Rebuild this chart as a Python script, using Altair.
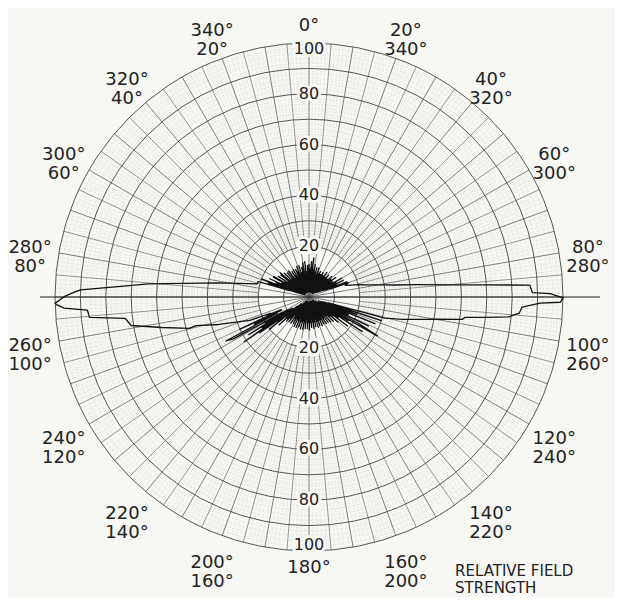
import math
import altair as alt
import pandas as pd

# ---------------- data ----------------
# polar pattern, in segments: angle (deg, clockwise from top) and relative field strength
burst_upper_right_a = [0, 1, 2, 3, 4, 5, 6, 7, 8, 9, 10, 11, 12, 13, 14, 15, 16, 17, 18, 19,
                       20, 22, 23, 24, 25, 27, 28, 30, 31, 33, 34, 36, 37, 39, 40, 42, 43,
                       45, 46, 48, 49, 51, 52, 54, 55, 57, 58, 60, 61, 62, 63, 64, 65, 66,
                       67, 68, 69, 70, 72]
burst_upper_right_r = [13, 3, 11, 2, 14, 3, 10, 15.5, 3, 11, 2, 13, 4, 10, 2, 12, 3, 9, 2, 12,
                       3, 10, 2, 11, 3, 10, 2, 11, 3, 10, 2, 12, 3, 10, 2, 11.5, 3,
                       10, 2, 12, 3, 11, 3, 13, 3, 11, 4, 14.8, 4, 12, 5, 15, 6, 12,
                       7, 16, 9, 16.5, 15]

lobe_right_a = [74, 76, 78, 80, 82, 83.5, 85, 86, 86.9, 88.9, 89.2, 90.2, 91.2, 91.5, 92.7,
                94.4, 95.7, 96.6, 97.4, 98.3, 100.1, 101, 103.4, 105.6]
lobe_right_r = [17, 20, 23, 27.5, 34, 43, 55, 68, 87, 88, 95, 100, 99, 91, 84,
                83, 79, 70, 62, 61, 50, 46, 38, 31]

streaks_lower_right_a = [107, 108, 109, 110, 111, 112, 113, 114, 115, 116, 117, 118, 119.6,
                         120.5, 121, 122, 123, 124, 125, 126, 127, 128, 129, 130, 131, 132, 133]
streaks_lower_right_r = [8, 30, 6, 20, 5, 28, 5, 17, 4, 26, 5, 22, 31,
                         5, 18, 4, 25, 3, 14, 3, 19, 3, 12, 2, 15, 2, 11]

burst_lower_a = [134, 135, 136, 137, 138, 139, 140, 141, 142, 143, 144, 145, 146, 147, 148,
                 149, 150, 151, 152, 153, 154, 155, 156, 157, 158, 159, 160, 161, 162, 163,
                 164, 165, 166, 167, 168, 169, 170, 171, 172, 173, 174, 175, 176, 177, 178,
                 179, 180, 181, 182, 183, 184, 185, 186, 187, 188, 189, 190, 191, 192, 193,
                 194, 195, 196, 197, 198, 199, 200, 201, 202, 203, 204, 205, 206, 207, 208,
                 209, 210, 211, 212, 213, 214, 215, 216, 217, 218, 219, 220, 221, 222, 223,
                 224, 225, 226]
burst_lower_r = [3, 13.5, 2, 10, 3, 13, 2, 9, 3, 12.5, 2, 10, 3, 12.5, 2,
                 9, 3, 12, 2, 10, 3, 12.5, 2, 9.5, 3, 12, 2, 10, 3, 12.5,
                 2, 9, 3, 12, 2, 10, 3, 12.5, 2, 9, 3, 12, 2, 10, 3,
                 13, 2, 10, 3, 12.5, 2, 9, 3, 12.5, 2, 10, 3, 13, 2, 9.5,
                 3, 13, 2, 10, 3, 12.5, 2, 9, 3, 13, 2, 10, 3, 13, 2,
                 9.5, 3, 12, 2, 10, 3, 12.5, 2, 9, 3, 12.5, 3, 11, 4, 13,
                 4, 12, 5]

streaks_lower_left_a = [227, 228, 229, 230, 231, 232, 233, 234, 234.7, 235.4, 236.1, 236.8,
                        237.4, 238, 238.8, 239.5, 240.2, 241, 242.1, 242.8, 243.5, 244.2,
                        245, 245.8, 246.5, 247.2]
streaks_lower_left_r = [16, 4, 12, 5, 20, 6, 15, 24, 8, 31, 8, 22,
                        9, 28, 10, 20, 12, 34, 37, 14, 24, 12,
                        30, 12, 18, 16.5]

lobe_left_a = [248.4, 250.5, 253, 255.8, 255.3, 258.3, 260.9, 263.4, 264.7, 266.6, 267.4,
               268.2, 268.6, 270.2, 271.2, 271.8, 273, 274.7, 276.2, 278.7, 281, 284.3, 286]
lobe_left_r = [25, 29, 37, 45.8, 48.8, 59.2, 70.9, 72.9, 86.8, 87.4, 96.5,
               99.2, 100, 96, 92.4, 90, 76.5, 63.4, 50, 36.8, 28, 21, 21]

burst_upper_left_a = [287, 288, 289, 290, 291, 292, 293, 294, 295, 296, 297, 298, 299, 300.3,
                      301, 302, 303, 304, 305, 306, 307, 308, 309, 310, 311, 312, 313, 314,
                      315, 316, 317, 318, 319, 320, 321, 322, 323, 324, 325, 326, 327, 328,
                      329, 330, 331, 332, 333, 334, 335, 336, 337, 338, 339, 340, 341, 342,
                      343, 344, 345, 346, 347, 348, 349.4, 350, 351, 352, 353, 354, 355,
                      356, 357, 358, 359]
burst_upper_left_r = [20.8, 8, 17, 5, 20, 4, 14, 3, 17, 3, 12, 2, 16, 16,
                      3, 11, 2, 14.5, 3, 10, 2, 14, 3, 14.7, 2, 10, 3, 13.5,
                      2, 9.5, 3, 12.7, 2, 10, 3, 13, 2, 9, 3, 12, 2, 10,
                      3, 12.5, 2, 9, 3, 12, 2, 11, 3, 13, 2, 9.5, 3, 13,
                      2, 10, 3, 12, 2, 10, 13.7, 3, 9, 2, 14, 3, 10,
                      2, 12.5, 3, 9]

ring_major = [10, 20, 30, 40, 50, 60, 70, 80, 90, 100]
ring_minor = [v for v in range(22, 100, 2) if v % 10]
ring_labels = [20, 40, 60, 80, 100]
label_angles = [20, 40, 60, 80, 100, 120, 140, 160, 200, 220, 240, 260, 280, 300, 320, 340]
single_angles = [0, 180]
caption_lines = ["RELATIVE FIELD", "STRENGTH"]
axis_extent = [-105.9, 114.6]

pattern_angle = (burst_upper_right_a + lobe_right_a + streaks_lower_right_a + burst_lower_a
                 + streaks_lower_left_a + lobe_left_a + burst_upper_left_a)
pattern_r = (burst_upper_right_r + lobe_right_r + streaks_lower_right_r + burst_lower_r
             + streaks_lower_left_r + lobe_left_r + burst_upper_left_r)

# ---------------- layout ----------------
W, H = 607, 589
PX = 2.54
CX, CY = 301, 289
BG = "#f7f7f4"
INK = "#222"
FONT = "DejaVu Sans"

xs = alt.Scale(domain=[-CX / PX, (W - CX) / PX], nice=False, zero=False)
ys = alt.Scale(domain=[-(H - CY) / PX, CY / PX], nice=False, zero=False)
rs = alt.Scale(type="linear", domain=[0, 100], range=[0, 100 * PX], zero=True)


def rings(vals, color, width, dash=None):
    kw = dict(filled=False, color=color, stroke=color, strokeWidth=width,
              theta=0, theta2=2 * math.pi)
    if dash:
        kw["strokeDash"] = dash
    return alt.Chart(pd.DataFrame({"r": vals})).mark_arc(**kw).encode(
        x=alt.XDatum(0, scale=xs, axis=None),
        y=alt.YDatum(0, scale=ys, axis=None),
        radius=alt.Radius("r:Q", scale=rs, stack=False),
    )


def spokes(angles, r0, r1, color, width, dash=None):
    df = pd.DataFrame({"a": angles, "r0": [r0] * len(angles), "r1": [r1] * len(angles)})
    kw = dict(color=color, strokeWidth=width)
    if dash:
        kw["strokeDash"] = dash
    return alt.Chart(df).transform_calculate(
        x0="datum.r0*sin(datum.a*PI/180)",
        y0="datum.r0*cos(datum.a*PI/180)",
        x1="datum.r1*sin(datum.a*PI/180)",
        y1="datum.r1*cos(datum.a*PI/180)",
    ).mark_rule(**kw).encode(
        x=alt.X("x0:Q", scale=xs, axis=None),
        y=alt.Y("y0:Q", scale=ys, axis=None),
        x2="x1:Q",
        y2="y1:Q",
    )


minor_spokes = spokes([a for a in range(360) if a % 5], 20, 100, "#c8c8c8", 0.6, [1, 2])
minor_rings = rings(ring_minor, "#c8c8c8", 0.6, [1, 2])
mid_spokes = spokes([a for a in range(5, 360, 10)], 20, 100, "#6a6a6a", 0.7)
major_spokes = spokes(list(range(0, 360, 10)), 0, 100, "#555", 0.75)
major_rings = rings(ring_major, "#444", 0.9)

axis_line = alt.Chart(pd.DataFrame({"x": [axis_extent[0]], "x2": [axis_extent[1]]})).mark_rule(
    color=INK, strokeWidth=1.1
).encode(
    x=alt.X("x:Q", scale=xs, axis=None),
    x2="x2:Q",
    y=alt.YDatum(0, scale=ys, axis=None),
)

n = len(pattern_angle)
pat_df = pd.DataFrame({
    "i": list(range(n + 1)),
    "a": pattern_angle + [pattern_angle[0] + 360],
    "r": pattern_r + [pattern_r[0]],
})
pattern = alt.Chart(pat_df).transform_calculate(
    px="datum.r*sin(datum.a*PI/180)",
    py="datum.r*cos(datum.a*PI/180)",
).mark_line(color="#111", strokeWidth=1.3, strokeJoin="round").encode(
    x=alt.X("px:Q", scale=xs, axis=None),
    y=alt.Y("py:Q", scale=ys, axis=None),
    order=alt.Order("i:Q"),
)

rl_df = pd.DataFrame({
    "v": ring_labels + ring_labels,
    "s": [1] * len(ring_labels) + [-1] * len(ring_labels),
})
rl_base = alt.Chart(rl_df).transform_calculate(
    yy="datum.s*(datum.v == 100 ? 97.8 : datum.v)", t="''+datum.v"
)
rl_enc = dict(
    x=alt.XDatum(0, scale=xs, axis=None),
    y=alt.Y("yy:Q", scale=ys, axis=None),
    text="t:N",
)
rl_halo = rl_base.mark_text(font=FONT, fontSize=16, color=BG, stroke=BG, strokeWidth=6,
                            baseline="middle", align="center").encode(**rl_enc)
rl_text = rl_base.mark_text(font=FONT, fontSize=16, color=INK,
                            baseline="middle", align="center").encode(**rl_enc)

al_df = pd.DataFrame({"a": label_angles})
angle_labels = alt.Chart(al_df).transform_calculate(
    lx="111.5*sin(datum.a*PI/180)",
    ly="111.5*cos(datum.a*PI/180)",
    t="datum.a + '°\\n' + (360 - datum.a) + '°'",
).mark_text(font=FONT, fontSize=18, color=INK, lineBreak="\n", lineHeight=19,
            baseline="middle", align="center").encode(
    x=alt.X("lx:Q", scale=xs, axis=None),
    y=alt.Y("ly:Q", scale=ys, axis=None),
    text="t:N",
)

sl_df = pd.DataFrame({"a": single_angles})
single_labels = alt.Chart(sl_df).transform_calculate(
    lx="106.5*sin(datum.a*PI/180)",
    ly="106.5*cos(datum.a*PI/180)",
    t="datum.a + '°'",
).mark_text(font=FONT, fontSize=18, color=INK, baseline="middle", align="center").encode(
    x=alt.X("lx:Q", scale=xs, axis=None),
    y=alt.Y("ly:Q", scale=ys, axis=None),
    text="t:N",
)

cap_df = pd.DataFrame({"t": caption_lines, "k": [0, 1]})
caption = alt.Chart(cap_df).transform_calculate(
    cx="57.5", cy="-107.9 - datum.k*6.5"
).mark_text(font=FONT, fontSize=15, color=INK, baseline="middle", align="left").encode(
    x=alt.X("cx:Q", scale=xs, axis=None),
    y=alt.Y("cy:Q", scale=ys, axis=None),
    text="t:N",
)

chart = alt.layer(
    minor_spokes, minor_rings, mid_spokes, major_spokes, major_rings, axis_line,
    pattern, rl_halo, rl_text, angle_labels, single_labels, caption,
).properties(
    width=W, height=H, padding=0,
    autosize=alt.AutoSizeParams(type="none"),
    background=BG,
).configure_view(strokeWidth=0)

chart.save("out.html", embed_options={"renderer": "svg", "actions": False})
